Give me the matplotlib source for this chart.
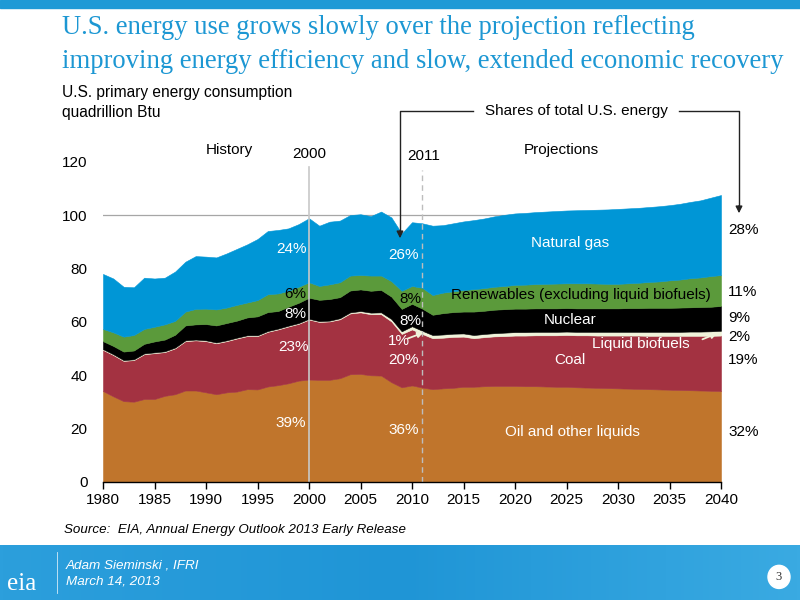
import numpy as np
import matplotlib
matplotlib.use("Agg")
import matplotlib.pyplot as plt
from matplotlib.patches import Rectangle
from matplotlib.colors import LinearSegmentedColormap

plt.rcParams['font.family'] = ['Liberation Sans', 'DejaVu Sans']

years = list(range(1980, 2041))

oil = [34.0, 32.0, 30.2, 30.0, 31.0, 31.0, 32.2, 32.8, 34.2, 34.2, 33.5, 32.8, 33.5, 33.8, 34.7, 34.6,
       35.7, 36.2, 36.9, 37.9, 38.3, 38.2, 38.2, 38.8, 40.3, 40.4, 39.9, 39.8, 37.3, 35.4, 36.1, 35.3,
       34.7, 35.0, 35.2, 35.6, 35.6, 35.8, 35.9, 35.9, 35.9, 35.8, 35.8, 35.7, 35.6, 35.6, 35.4, 35.3,
       35.2, 35.1, 35.0, 34.9, 34.8, 34.7, 34.6, 34.5, 34.4, 34.3, 34.2, 34.1, 34.0]
coal = [15.4, 15.5, 15.1, 15.6, 16.8, 17.2, 16.4, 17.2, 18.5, 18.8, 19.2, 19.1, 19.2, 19.9, 19.9, 20.0,
        20.5, 20.9, 21.3, 21.3, 22.5, 21.7, 21.9, 22.1, 22.8, 23.1, 22.9, 23.0, 22.8, 20.0, 21.0, 20.1,
        19.1, 19.0, 19.1, 18.8, 18.2, 18.4, 18.6, 18.7, 18.9, 19.0, 19.1, 19.2, 19.3, 19.4, 19.5, 19.6,
        19.6, 19.7, 19.8, 19.9, 20.0, 20.0, 20.1, 20.2, 20.3, 20.4, 20.5, 20.6, 20.8]
biofuels = [0.3] * 23 + [0.4, 0.4, 0.5, 0.6, 0.7, 0.9, 1.0, 1.2, 1.2] + \
           [1.2, 1.2, 1.2, 1.2, 1.2, 1.2, 1.2, 1.3, 1.3, 1.3, 1.3, 1.3, 1.3, 1.3, 1.3, 1.3,
            1.4, 1.4, 1.4, 1.4, 1.4, 1.5, 1.5, 1.5, 1.5, 1.6, 1.6, 1.7, 1.8]
nuclear = [3.0, 3.1, 3.2, 3.3, 3.6, 4.1, 4.4, 4.8, 5.6, 5.7, 6.1, 6.4, 6.5, 6.4, 6.7, 7.1,
           7.1, 6.6, 7.1, 7.6, 7.9, 8.0, 8.1, 7.9, 8.2, 8.1, 8.2, 8.4, 8.4, 8.4, 8.4, 8.3,
           7.6, 8.0, 8.1, 8.2, 8.8, 8.7, 8.8, 8.8, 8.8, 8.8, 8.8, 8.8, 8.8, 8.8, 8.8, 8.8,
           8.8, 8.8, 8.8, 8.9, 8.9, 9.0, 9.0, 9.0, 9.1, 9.1, 9.2, 9.2, 9.3]
renewables = [4.6, 5.1, 5.6, 5.8, 5.6, 5.5, 5.7, 5.2, 5.2, 5.8, 5.8, 6.0, 5.8, 5.9, 5.6, 6.1,
              6.7, 6.6, 6.0, 6.0, 5.8, 5.2, 5.5, 5.6, 5.6, 5.4, 5.7, 5.4, 5.8, 6.8, 6.7, 7.8,
              7.4, 7.7, 7.8, 8.1, 8.4, 8.5, 8.6, 8.7, 8.9, 9.0, 9.1, 9.2, 9.3, 9.3, 9.4, 9.4,
              9.3, 9.2, 9.2, 9.3, 9.5, 9.7, 9.9, 10.3, 10.5, 10.9, 11.1, 11.5, 11.6]
natural_gas = [20.6, 20.2, 18.7, 17.9, 19.2, 18.1, 17.5, 18.5, 18.7, 19.8, 19.5, 19.5, 20.3, 21.0, 21.8, 22.9,
               23.7, 23.8, 23.4, 23.5, 24.0, 22.6, 23.5, 23.1, 22.7, 22.8, 22.3, 24.0, 23.9, 21.5, 23.9, 24.2,
               26.0, 25.3, 25.5, 25.7, 25.9, 26.1, 26.4, 26.7, 26.8, 26.9, 27.0, 27.1, 27.2, 27.3, 27.4, 27.5,
               27.7, 27.9, 28.1, 28.1, 28.1, 28.1, 28.2, 28.2, 28.4, 28.6, 28.9, 29.4, 30.0]

series = [oil, coal, biofuels, nuclear, renewables, natural_gas]
colors = ['#C0752C', '#A33241', '#F0F3DA', '#000000', '#5B9A3B', '#0096D6']

xticks = list(range(1980, 2041, 5))
yticks = [0, 20, 40, 60, 80, 100, 120]

fig = plt.figure(figsize=(8, 6), dpi=100)
fig.patch.set_facecolor('white')

# top banner
fig.patches.append(Rectangle((0, 1 - 8 / 600), 1, 8 / 600, transform=fig.transFigure,
                             color='#1E9AD6', zorder=0))

# footer
fax = fig.add_axes([0, 0, 1, 55 / 600])
grad = np.linspace(0, 1, 256).reshape(1, -1)
cmap = LinearSegmentedColormap.from_list('f', ['#2C9FDC', '#1F95D6', '#3AAAE2'])
fax.imshow(grad, aspect='auto', cmap=cmap, extent=[0, 1, 0, 1])
fax.set_xlim(0, 1)
fax.set_ylim(0, 1)
fax.axis('off')
fax.text(22 / 800, 0.30, 'eia', color='white', fontsize=18, family='Liberation Serif',
         ha='center', va='center')
fax.plot([57 / 800, 57 / 800], [0.12, 0.88], color='white', lw=0.6, alpha=0.8)
fax.text(66 / 800, 0.63, 'Adam Sieminski , IFRI', color='white', fontsize=9.7, style='italic',
         ha='left', va='center')
fax.text(66 / 800, 0.33, 'March 14, 2013', color='white', fontsize=9.7, style='italic',
         ha='left', va='center')
fax.add_patch(matplotlib.patches.Ellipse((779 / 800, 0.42), 22 / 800, 0.42, color='white'))
fax.text(779 / 800, 0.42, '3', color='#333333', fontsize=9, family='Liberation Serif',
         ha='center', va='center')

# main axes
ax = fig.add_axes([103 / 800, (600 - 481.7) / 600, 618 / 800, (481.7 - 161.7) / 600])
ax.set_facecolor('none')
ax.set_xlim(1980, 2040)
ax.set_ylim(0, 120)

ax.axhline(100, color='#A6A6A6', lw=0.9, zorder=0)

base = np.zeros(len(years))
for vals, c in zip(series, colors):
    top = base + np.array(vals)
    ax.fill_between(years, base, top, facecolor=c, edgecolor=c, lw=0.4, zorder=2)
    base = top

# reference lines
ax.plot([2000, 2000], [0, 118], color='#C8C8C8', lw=1.2, zorder=3, clip_on=False)
ax.plot([2011, 2011], [0, 117], color='#BDBDBD', lw=1.0, ls=(0, (4, 3)), zorder=3, clip_on=False)

for s in ['top', 'right', 'left']:
    ax.spines[s].set_visible(False)
ax.spines['bottom'].set_color('black')
ax.spines['bottom'].set_linewidth(1.0)
ax.spines['bottom'].set_zorder(4)
ax.set_xticks(xticks)
ax.set_xticklabels([str(x) for x in xticks], fontsize=11)
ax.set_yticks(yticks)
ax.set_yticklabels([str(y) for y in yticks], fontsize=11)
ax.tick_params(axis='x', direction='out', length=5, width=1, pad=3)
ax.tick_params(axis='y', length=0, pad=11)

fs = 11
def lab(x, y, s, color='white', ha='center', **kw):
    ax.text(x, y, s, color=color, fontsize=fs, ha=ha, va='center', zorder=5, **kw)

# period labels
lab(1992.3, 124.5, 'History', color='black')
lab(2000.0, 123.0, '2000', color='black')
lab(2011.1, 122.2, '2011', color='black')
lab(2024.5, 124.5, 'Projections', color='black')

# shares labels inside
lab(1998.3, 87.2, '24%')
lab(1998.7, 70.4, '6%', color='black')
lab(1998.7, 63.0, '8%')
lab(1998.5, 50.4, '23%')
lab(1998.2, 21.9, '39%')
lab(2009.2, 85.0, '26%')
lab(2009.8, 68.6, '8%', color='black')
lab(2009.8, 60.4, '8%')
lab(2008.7, 52.9, '1%')
lab(2009.2, 45.8, '20%')
lab(2009.2, 19.2, '36%')

# series labels
lab(2025.3, 89.5, 'Natural gas')
lab(2026.4, 70.0, 'Renewables (excluding liquid biofuels)', color='black')
lab(2025.4, 60.6, 'Nuclear')
lab(2032.2, 51.6, 'Liquid biofuels')
lab(2025.3, 45.8, 'Coal')
lab(2025.6, 18.8, 'Oil and other liquids')

# right side shares
for yv, s in [(94.5, '28%'), (71.3, '11%'), (61.5, '9%'), (54.3, '2%'), (45.8, '19%'), (18.8, '32%')]:
    ax.text(2040.7, yv, s, color='black', fontsize=fs, ha='left', va='center', zorder=5, clip_on=False)

# small arrows
ax.annotate('', xy=(2011.1, 55.9), xytext=(2009.6, 53.7),
            arrowprops=dict(arrowstyle='-|>', color='#F0F3DA', lw=1.3, mutation_scale=8,
                            shrinkA=0, shrinkB=0), zorder=5)
ax.annotate('', xy=(2039.6, 55.6), xytext=(2038.2, 53.4),
            arrowprops=dict(arrowstyle='-|>', color='#F0F3DA', lw=1.3, mutation_scale=8,
                            shrinkA=0, shrinkB=0), zorder=5)

# shares bracket (figure coords in pixels)
def fx(px):
    return px / 800
def fy(py):
    return 1 - py / 600
line_kw = dict(color='#222222', lw=1.0, transform=fig.transFigure)
fig.lines.append(matplotlib.lines.Line2D([fx(473), fx(400), fx(400)], [fy(111), fy(111), fy(232)], **line_kw))
fig.lines.append(matplotlib.lines.Line2D([fx(679), fx(739), fx(739)], [fy(111), fy(111), fy(207)], **line_kw))
fig.patches.append(matplotlib.patches.FancyArrowPatch((fx(400), fy(228)), (fx(400), fy(241)),
                   transform=fig.transFigure, arrowstyle='-|>', mutation_scale=10, color='#222222', lw=1.0))
fig.patches.append(matplotlib.patches.FancyArrowPatch((fx(739), fy(203)), (fx(739), fy(216)),
                   transform=fig.transFigure, arrowstyle='-|>', mutation_scale=10, color='#222222', lw=1.0))
fig.text(fx(576), fy(111), 'Shares of total U.S. energy', fontsize=fs, ha='center', va='center')

# titles
fig.text(fx(62), fy(28), 'U.S. energy use grows slowly over the projection reflecting',
         fontsize=19.2, family='Liberation Serif', color='#1C97D3', ha='left', va='center')
fig.text(fx(62), fy(62), 'improving energy efficiency and slow, extended economic recovery',
         fontsize=19.2, family='Liberation Serif', color='#1C97D3', ha='left', va='center')
fig.text(fx(62), fy(92), 'U.S. primary energy consumption', fontsize=11.2, ha='left', va='center')
fig.text(fx(62), fy(113), 'quadrillion Btu', fontsize=11.2, ha='left', va='center')
fig.text(fx(64), fy(530), 'Source:  EIA, Annual Energy Outlook 2013 Early Release', fontsize=9.6,
         style='italic', ha='left', va='center')

fig.savefig('out.png', dpi=100, facecolor='white')
